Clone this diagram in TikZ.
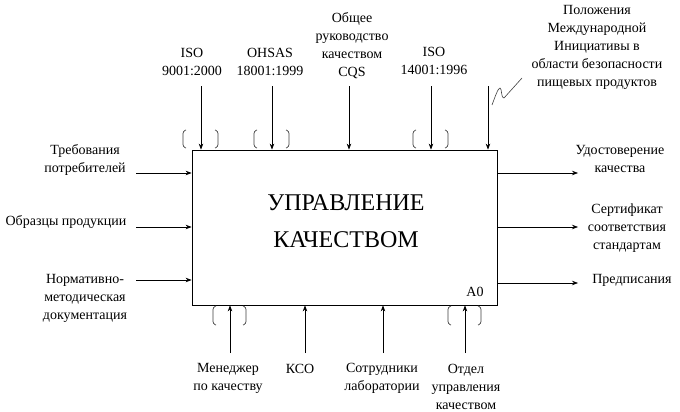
\documentclass[tikz,border=0pt]{standalone}
\usepackage{fontspec}
\setmainfont{Liberation Serif}
\usetikzlibrary{arrows.meta}
\begin{document}
\begin{tikzpicture}[x=1pt,y=-1pt,
  lbl/.style={align=center,inner sep=0pt,font=\fontsize{14}{18}\selectfont},
  arr/.style={line width=0.7pt,-{Stealth[length=6pt,width=4.5pt]}},
  brk/.style={line width=0.7pt,rounded corners=2.5pt,black!75},
  boxst/.style={draw,line width=0.8pt,minimum width=305pt,minimum height=155pt,inner sep=0pt}]
\useasboundingbox[fill=white] (0,0) rectangle (680,412);
% main box
\node[boxst] (box) at (344.5,227.5) {};
\node[inner sep=0pt,align=center,font=\fontsize{24}{37}\selectfont] (title) at (346,221) {УПРАВЛЕНИЕ\\КАЧЕСТВОМ};
\node[lbl] (a0) at (475,292) {A0};
% top labels
\node[lbl] (t1) at (192,62) {ISO\\9001:2000};
\node[lbl] (t2) at (270,62) {OHSAS\\18001:1999};
\node[lbl] (t3) at (352,46) {Общее\\руководство\\качеством\\CQS};
\node[lbl] (t4) at (434,61) {ISO\\14001:1996};
\node[lbl] (t5) at (597,47) {Положения\\Международной\\Инициативы в\\области безопасности\\пищевых продуктов};
% top arrows
\coordinate (c1) at (201,86);
\coordinate (c2) at (272,86);
\coordinate (c3) at (349,86);
\coordinate (c4) at (431,86);
\coordinate (c5) at (488,86);
\foreach \c in {c1,c2,c3,c4,c5} \draw[arr] (\c) -- (\c |- box.north);
% squiggle
\coordinate (sq1) at (492,105);
\coordinate (sq2) at (522,78);
\draw[line width=0.6pt,black!75] (sq1) .. controls (495,97) and (498,88) .. (500,88) .. controls (502,88) and (501,99) .. (504,98) -- (sq2);
% top brackets
\foreach \x in {201,272,431}{
  \draw[brk] (\x-15,130) -- (\x-18,131) -- (\x-18,147) -- (\x-15,148);
  \draw[brk] (\x+14,130) -- (\x+17,131) -- (\x+17,147) -- (\x+14,148);
}
% left inputs
\node[lbl] (l1) at (85,160) {Требования\\потребителей};
\node[lbl] (l2) at (66,222) {Образцы продукции};
\node[lbl] (l3) at (85,298) {Нормативно-\\методическая\\документация};
\coordinate (i1) at (136,173);
\coordinate (i2) at (136,227);
\coordinate (i3) at (136,280);
\foreach \c in {i1,i2,i3} \draw[arr] (\c) -- (\c -| box.west);
% right outputs
\node[lbl] (r1) at (620,159) {Удостоверение\\качества};
\node[lbl] (r2) at (627,228) {Сертификат\\соответствия\\стандартам};
\node[lbl] (r3) at (632,280) {Предписания};
\coordinate (o1) at (578,173);
\coordinate (o2) at (578,227);
\coordinate (o3) at (578,283);
\foreach \c in {o1,o2,o3} \draw[arr] (\c -| box.east) -- (\c);
% bottom mechanisms
\node[lbl] (b1) at (228,378) {Менеджер\\по качеству};
\node[lbl] (b2) at (300,369) {КСО};
\node[lbl] (b3) at (382,378) {Сотрудники\\лаборатории};
\node[lbl] (b4) at (466,387) {Отдел\\управления\\качеством};
\coordinate (m1) at (230,353);
\coordinate (m2) at (305,353);
\coordinate (m3) at (383,353);
\coordinate (m4) at (465,353);
\foreach \c in {m1,m2,m3,m4} \draw[arr] (\c) -- (\c |- box.south);
% bottom brackets
\foreach \x in {230,465}{
  \draw[brk] (\x-14,306) -- (\x-17,307) -- (\x-17,324) -- (\x-14,325);
  \draw[brk] (\x+13,306) -- (\x+16,307) -- (\x+16,324) -- (\x+13,325);
}
\end{tikzpicture}
\end{document}
